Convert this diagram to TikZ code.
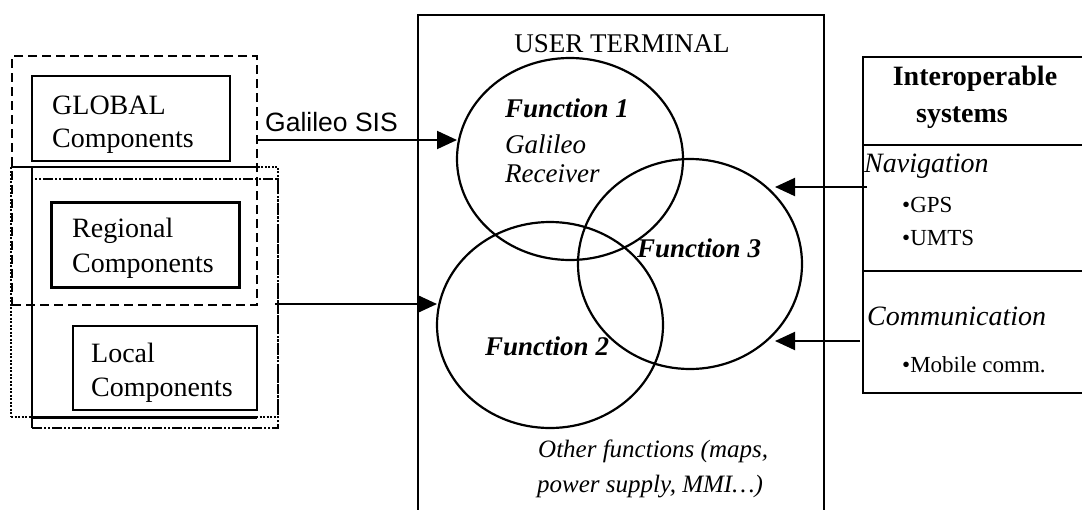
\documentclass[tikz,border=0pt]{standalone}
\usepackage{fontspec}
\setmainfont{Liberation Serif}
\newfontfamily\arialfont{Liberation Sans}
\usetikzlibrary{shapes.geometric,arrows.meta}
\begin{document}
\begin{tikzpicture}[x=1pt,y=-1pt,
  boxs/.style={draw, rectangle, inner sep=0pt, outer sep=0pt},
  fun/.style={draw, ellipse, line width=2.2pt, inner sep=0pt, outer sep=0pt},
  txt/.style={inner sep=0pt, anchor=base west, font=\fontsize{28}{30}\selectfont},
  ital/.style={txt, font=\fontsize{27}{30}\selectfont\itshape},
  bital/.style={txt, font=\fontsize{27}{30}\selectfont\bfseries\itshape},
  small/.style={txt, font=\fontsize{23}{26}\selectfont},
  arr/.style={line width=2pt, -{Triangle[length=20pt,width=18pt]}}]
\useasboundingbox (0,0) rectangle (1082,509);

% ---- left side: components ----
\node[boxs, line width=2.5pt, dash pattern=on 9pt off 5pt, minimum width=245pt, minimum height=249pt] (gr) at (134.5,180.5) {};
\node[boxs, line width=2pt, dash pattern=on 2pt off 1.5pt, minimum width=267pt, minimum height=250pt] (dotbox) at (144.5,292) {};
\node[boxs, line width=2.5pt, dash pattern=on 10pt off 2pt on 2pt off 2pt on 2pt off 2pt, minimum width=246pt, minimum height=249pt] (ddbox) at (155,303.5) {};
\draw[line width=1.5pt] (11,167) -- (257,167);
\draw[line width=2.5pt] (32,167) -- (32,428);
\draw[line width=3pt] (32,417) -- (257,417);

\node[boxs, line width=2pt, minimum width=198pt, minimum height=85pt] (global) at (131,118.5) {};
\node[boxs, line width=3pt, minimum width=188pt, minimum height=85pt] (regional) at (145,244.5) {};
\node[boxs, line width=2pt, minimum width=184pt, minimum height=84pt] (local) at (165,368) {};

\node[txt] (t1) at (52,114) {GLOBAL};
\node[txt] (t2) at (52,147) {Components};
\node[txt] (t3) at (72,237) {Regional};
\node[txt] (t4) at (72,272) {Components};
\node[txt] (t5) at (91,362) {Local};
\node[txt] (t6) at (91,396) {Components};

% ---- user terminal ----
\node[boxs, line width=2pt, minimum width=406pt, minimum height=505pt] (ut) at (621,267.5) {};
\node[inner sep=0pt, anchor=base, font=\fontsize{27}{30}\selectfont] (utl) at (622,52) {USER TERMINAL};

\node[fun, minimum width=226pt, minimum height=202pt] (f1) at (570,159) {};
\node[fun, minimum width=226pt, minimum height=206pt] (f2) at (550,325) {};
\node[fun, minimum width=224pt, minimum height=210pt] (f3) at (690,264) {};

\node[bital] (f1a) at (505,117) {Function 1};
\node[ital] (f1b) at (505,153) {Galileo};
\node[ital] (f1c) at (505,182) {Receiver};
\node[bital] (f3a) at (637,257) {Function 3};
\node[bital] (f2a) at (485,355) {Function 2};
\node[txt, font=\fontsize{25}{28}\selectfont\itshape] (oth1) at (538,457) {Other functions (maps,};
\node[txt, font=\fontsize{25}{28}\selectfont\itshape] (oth2) at (537,492) {power supply, MMI…)};

% ---- interoperable systems ----
\node[boxs, line width=2.5pt, minimum width=230pt, minimum height=336pt] (inter) at (978,225) {};
\draw[line width=2.5pt] (inter.west |- 0,145) -- (1082,145);
\draw[line width=2pt] (inter.west |- 0,271) -- (1082,271);
\node[inner sep=0pt, anchor=base, font=\fontsize{28}{30}\selectfont\bfseries] (ia) at (975,85) {Interoperable};
\node[inner sep=0pt, anchor=base, font=\fontsize{28}{30}\selectfont\bfseries] (ib) at (962,122) {systems};
\node[ital, font=\fontsize{28}{30}\selectfont\itshape] (nav) at (864,172) {Navigation};
\node[small] (gps) at (902,212) {•GPS};
\node[small] (umts) at (902,245) {•UMTS};
\node[ital, font=\fontsize{28}{30}\selectfont\itshape] (com) at (867,325) {Communication};
\node[small] (mob) at (902,372) {•Mobile comm.};

% ---- connectors ----
\coordinate (sis) at (gr.east |- 0,140);
\draw[arr] (sis) -- (sis -| f1.west);
\node[inner sep=0pt, anchor=base west, font=\arialfont\fontsize{26.5}{28}\selectfont] (sisl) at (265,131) {Galileo SIS};

\coordinate (loc) at (275,304);
\draw[arr] (loc) -- (loc -| f2.west);

\coordinate (navs) at (867,187);
\coordinate (navt) at (775,187);
\draw[arr] (navs) -- (navt);
\coordinate (coms) at (860,341);
\coordinate (comt) at (775,341);
\draw[arr] (coms) -- (comt);
\end{tikzpicture}
\end{document}
